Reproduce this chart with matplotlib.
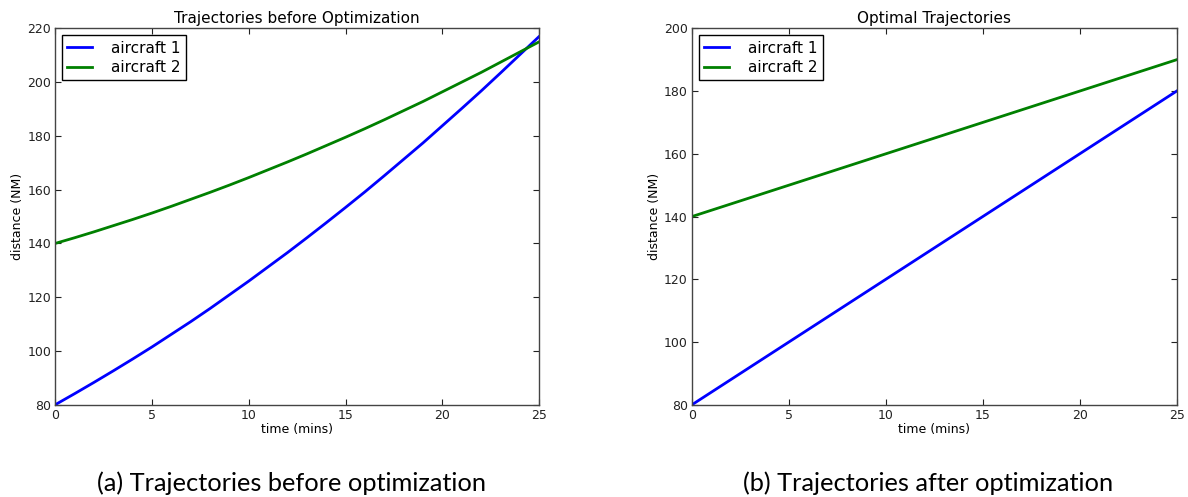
import matplotlib
matplotlib.use('Agg')
from matplotlib import pyplot as plt

# time samples (mins)
t_before = list(range(0, 26))
before_ac1 = [80, 84.1, 88.3, 92.6, 97.0, 101.5, 106.2, 110.9, 115.8, 120.9,
              126.0, 131.3, 136.6, 142.1, 147.7, 153.4, 159.2, 165.2, 171.3,
              177.4, 183.8, 190.2, 196.7, 203.4, 210.2, 217.0]
before_ac2 = [140, 142.1, 144.3, 146.6, 148.9, 151.3, 153.8, 156.4, 159.0,
              161.7, 164.5, 167.4, 170.3, 173.3, 176.4, 179.5, 182.7, 186.0,
              189.4, 192.8, 196.4, 200.0, 203.6, 207.4, 211.2, 215.0]

t_after = [0, 5, 10, 15, 20, 25]
after_ac1 = [80, 100, 120, 140, 160, 180]
after_ac2 = [140, 150, 160, 170, 180, 190]

labels = ['aircraft 1', 'aircraft 2']
titles = ['Trajectories before Optimization', 'Optimal Trajectories']
captions = ['(a) Trajectories before optimization', '(b) Trajectories after optimization']

plt.rcParams['font.family'] = 'DejaVu Sans'
plt.rcParams['xtick.direction'] = 'in'
plt.rcParams['ytick.direction'] = 'in'

fig = plt.figure(figsize=(11.88, 4.97), dpi=100)
ax1 = fig.add_axes([0.0465, 0.1857, 0.4074, 0.7573])
ax2 = fig.add_axes([0.5825, 0.1857, 0.4080, 0.7573])

panels = [
    (ax1, t_before, before_ac1, before_ac2, (80, 220)),
    (ax2, t_after, after_ac1, after_ac2, (80, 200)),
]

for i, (ax, t, y1, y2, ylim) in enumerate(panels):
    ax.plot(t, y1, color='#0000ff', lw=2, label=labels[0])
    ax.plot(t, y2, color='#008000', lw=2, label=labels[1])
    ax.set_xlim(0, 25)
    ax.set_ylim(*ylim)
    ax.set_xticks([0, 5, 10, 15, 20, 25])
    ax.set_yticks(range(ylim[0], ylim[1] + 1, 20))
    ax.tick_params(which='both', top=True, right=True, labelsize=9,
                   length=4, width=0.8, pad=3, colors='#222222')
    for s in ax.spines.values():
        s.set_color('#444444')
        s.set_linewidth(1.0)
    ax.set_title(titles[i], fontsize=11, pad=4)
    ax.set_xlabel('time (mins)', fontsize=9, labelpad=1)
    ax.set_ylabel('distance (NM)', fontsize=9, labelpad=2)
    leg = ax.legend(loc='upper left', fontsize=11, fancybox=False,
                    framealpha=1, edgecolor='black', borderaxespad=0.45,
                    handlelength=1.6, handletextpad=1.25, borderpad=0.35,
                    labelspacing=0.3)
    leg.get_frame().set_linewidth(1.0)
    pos = ax.get_position()
    fig.text((pos.x0 + pos.x1) / 2 - 0.005, 0.012, captions[i],
             ha='center', va='baseline', fontsize=18.3, family='Lato')

fig.savefig('out.png', dpi=100)
